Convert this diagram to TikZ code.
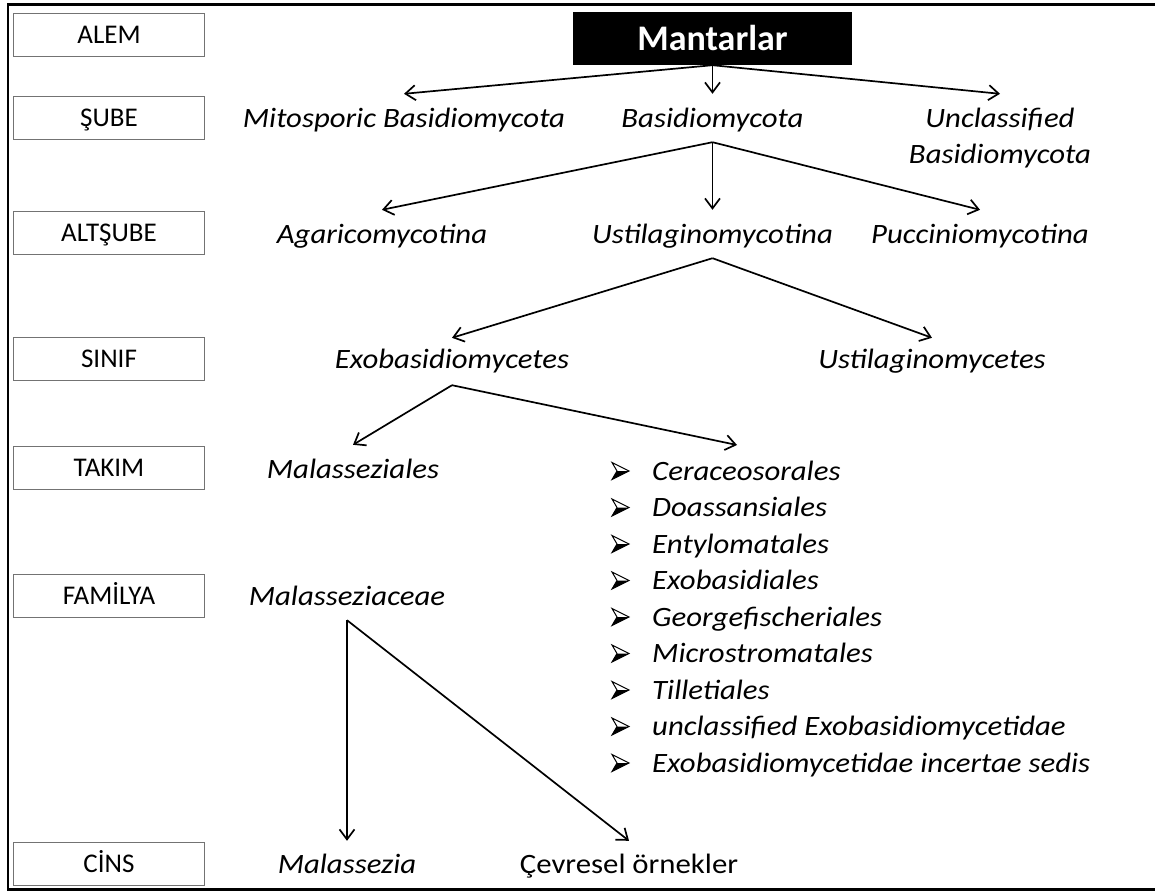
\documentclass[tikz,border=0pt]{standalone}
\usepackage{fontspec}
\setmainfont{Carlito}
\newfontfamily\labelfont[FakeStretch=1.1]{Carlito}
\usetikzlibrary{arrows.meta}
\definecolor{boxgray}{gray}{0.45}
\begin{document}
\begin{tikzpicture}[x=1pt,y=-1pt,
  lvl/.style={font=\fontsize{28}{32}\labelfont\itshape, anchor=base, text height=19pt, text depth=7pt, inner xsep=2pt, inner ysep=8pt},
  plain/.style={font=\fontsize{28}{32}\labelfont, anchor=base, text height=19pt, text depth=7pt, inner xsep=2pt, inner ysep=8pt},
  rank/.style={draw=boxgray, line width=1pt, minimum width=191pt, minimum height=43pt, inner sep=0pt, text height=17pt, text depth=0pt, font=\fontsize{27}{30}\selectfont, anchor=north west},
  arr/.style={-{Straight Barb[length=10pt,width=15pt,line width=1.7pt]}, line width=1.7pt},
  frame/.style={line width=2.5pt},
  bulletline/.style={line width=1pt, line join=miter}
]
\useasboundingbox (0,0) rectangle (1155,891);
\draw[frame] (1156,4.5) -- (8,4.5) -- (8,889.5) -- (1156,889.5);

% rank boxes
\node[rank] (alem) at (13,13) {ALEM};
\node[rank] (sube) at (13,96) {ŞUBE};
\node[rank] (altsube) at (13,211) {ALTŞUBE};
\node[rank] (sinif) at (13,337) {SINIF};
\node[rank] (takim) at (13,446) {TAKIM};
\node[rank] (familya) at (13,574) {FAMİLYA};
\node[rank] (cins) at (13,842) {CİNS};

% root
\node[fill=black, text=white, font=\fontsize{36}{40}\selectfont\bfseries, minimum width=279pt, minimum height=53pt, inner sep=0pt, text height=23pt, text depth=0pt] (mant) at (712.5,38.5) {Mantarlar};

% level 2
\node[lvl] (mito) at (404,127) {Mitosporic Basidiomycota};
\node[lvl] (basid) at (712.5,127) {Basidiomycota};
\node[lvl] (unc1) at (1000,127) {Unclassified};
\node[lvl] (unc2) at (1000,163) {Basidiomycota};

% level 3
\node[lvl] (agar) at (382,243) {Agaricomycotina};
\node[lvl] (ustina) at (712.5,243) {Ustilaginomycotina};
\node[lvl] (pucc) at (980,243) {Pucciniomycotina};

% level 4
\node[lvl] (exob) at (452,368) {Exobasidiomycetes};
\node[lvl] (ustcet) at (932,368) {Ustilaginomycetes};

% level 5
\node[lvl] (malales) at (353,478) {Malasseziales};
\coordinate (listtop) at (737,445);
\foreach \t [count=\i] in {Ceraceosorales,Doassansiales,Entylomatales,Exobasidiales,Georgefischeriales,Microstromatales,Tilletiales,unclassified Exobasidiomycetidae,Exobasidiomycetidae incertae sedis}{
  \coordinate (b\i) at (612,{471+36.5*(\i-1)});
  \fill[black] ([xshift=5pt]b\i) -- ([xshift=17pt]b\i) -- ([yshift=-8.5pt]b\i) -- cycle;
  \draw[bulletline] ([yshift=8.5pt]b\i) -- ([xshift=17pt]b\i) -- ([yshift=-8.5pt]b\i) -- ([xshift=5pt]b\i) -- cycle;
  \node[lvl, anchor=base west] (r\i) at (650,{480+36.5*(\i-1)}) {\t};
}

% level 6
\node[lvl] (mcea) at (347,605) {Malasseziaceae};

% level 7
\node[lvl] (malz) at (347,873) {Malassezia};
\node[plain] (cev) at (629,873) {Çevresel örnekler};

% connectors
\draw[arr] (mant.south) -- ([yshift=6pt]mito.north);
\draw[arr] (mant.south) -- ([yshift=6pt]basid.north);
\draw[arr] (mant.south) -- ([yshift=6pt]unc1.north);

\draw[arr] (basid.south) -- ([yshift=6pt]agar.north);
\draw[arr] (basid.south) -- ([yshift=6pt]ustina.north);
\draw[arr] (basid.south) -- ([yshift=6pt]pucc.north);

\draw[arr] (ustina.south) -- ([yshift=3pt]exob.north);
\draw[arr] (ustina.south) -- ([yshift=3pt]ustcet.north);

\draw[arr] ([yshift=-2pt]exob.south) -- ([yshift=6pt]malales.north);
\draw[arr] ([yshift=-2pt]exob.south) -- (listtop);

\draw[arr] (mcea.south) -- ([yshift=5pt]malz.north);
\draw[arr] (mcea.south) -- ([yshift=5pt]cev.north);
\end{tikzpicture}
\end{document}
